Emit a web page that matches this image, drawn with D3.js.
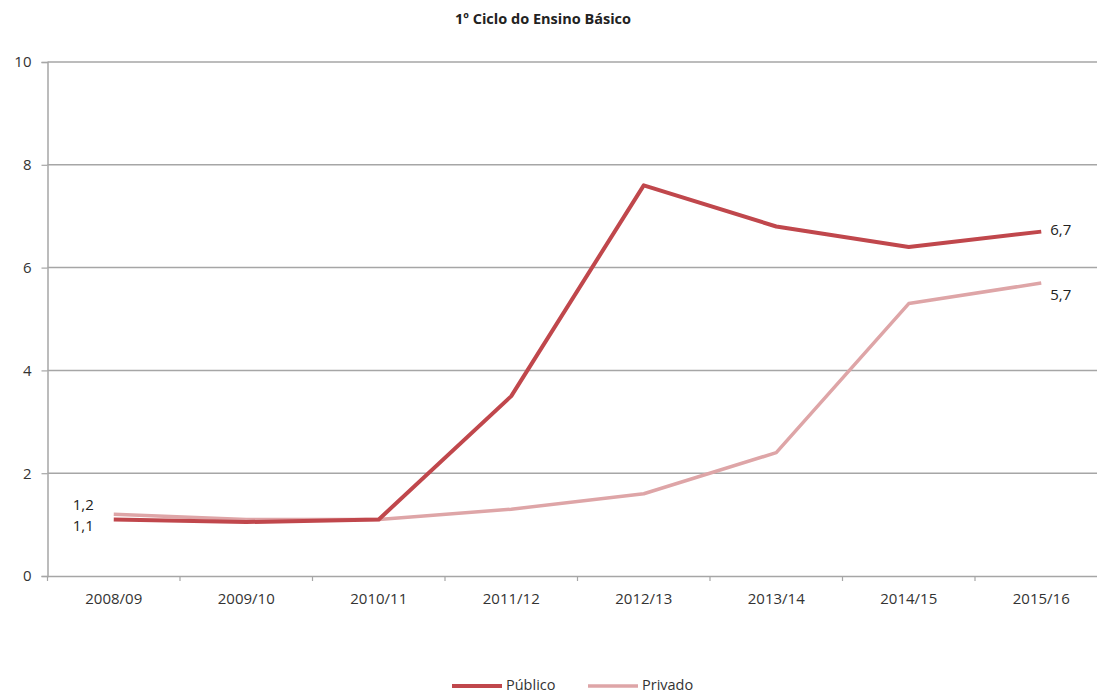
<!DOCTYPE html>
<html><head><meta charset="utf-8">
<script src="https://cdn.jsdelivr.net/npm/d3@7"></script>
<style>body{margin:0;background:#fff;} svg{display:block;font-family:"Open Sans",sans-serif;}</style>
</head><body>
<svg id="c" width="1097" height="695"></svg>
<script>
const categories = ["2008/09","2009/10","2010/11","2011/12","2012/13","2013/14","2014/15","2015/16"];
const publico = [1.1,1.05,1.1,3.5,7.6,6.8,6.4,6.7];
const privado = [1.2,1.1,1.1,1.3,1.6,2.4,5.3,5.7];
const yTicks = [0,2,4,6,8,10];
const seriesNames = ["Público","Privado"];

const FONT = "'Open Sans',sans-serif";
const svg = d3.select("#c");
const mLeft = 47.5, bandW = 132.5, mTop = 62, mBottom = 576;
const x = d3.scaleBand().domain(categories).range([mLeft, mLeft + bandW*categories.length]);
const y = d3.scaleLinear().domain([0,10]).range([mBottom, mTop]);

svg.append("text").attr("x",543).attr("y",24).attr("text-anchor","middle")
  .attr("font-size",14.5).attr("font-weight","bold").attr("fill","#222").attr("font-family",FONT)
  .text("1º Ciclo do Ensino Básico");

// gridlines
svg.append("g").selectAll("line").data(yTicks.filter(d=>d>0)).join("line")
  .attr("x1",mLeft).attr("x2",1097).attr("y1",d=>y(d)).attr("y2",d=>y(d))
  .attr("stroke","#a6a6a6").attr("stroke-width",1.5);

// y axis
const ya = svg.append("g").attr("transform",`translate(${mLeft},0)`)
  .call(d3.axisLeft(y).tickValues(yTicks).tickSize(6).tickPadding(10).tickFormat(d3.format("d")));
ya.select(".domain").attr("stroke","#a6a6a6").attr("stroke-width",1.5);
ya.selectAll(".tick line").attr("stroke","#a6a6a6").attr("stroke-width",1.2);
ya.selectAll("text").attr("font-size",15).attr("fill","#333").attr("font-family",FONT);

// x axis
const xa = svg.append("g").attr("transform",`translate(0,${mBottom})`)
  .call(d3.axisBottom(x).tickSize(0).tickPadding(17));
xa.select(".domain").attr("stroke","#a6a6a6").attr("stroke-width",1.5);
xa.selectAll("text").attr("font-size",15).attr("fill","#333").attr("font-family",FONT);
svg.append("g").selectAll("line").data(d3.range(categories.length+1)).join("line")
  .attr("x1",i=>mLeft+i*bandW).attr("x2",i=>mLeft+i*bandW).attr("y1",mBottom).attr("y2",mBottom+5)
  .attr("stroke","#a6a6a6").attr("stroke-width",1.2);

const cx = c => x(c) + x.bandwidth()/2;
const line = d3.line().x((d,i)=>cx(categories[i])).y(d=>y(d));

svg.append("path").datum(privado).attr("d",line).attr("fill","none")
  .attr("stroke","#dea5a7").attr("stroke-width",3.5).attr("stroke-linejoin","round");
svg.append("path").datum(publico).attr("d",line).attr("fill","none")
  .attr("stroke","#c0474c").attr("stroke-width",4).attr("stroke-linejoin","round");

// data labels
const lab = svg.append("g").attr("font-size",15).attr("fill","#222").attr("font-family",FONT);
const f = d3.format(".1f");
const fmt = v => f(v).replace(".",",");
const x0 = cx(categories[0]), xn = cx(categories[categories.length-1]);
lab.append("text").attr("x",x0-20).attr("y",y(privado[0])-4).attr("text-anchor","end").text(fmt(privado[0]));
lab.append("text").attr("x",x0-20).attr("y",y(publico[0])+12).attr("text-anchor","end").text(fmt(publico[0]));
lab.append("text").attr("x",xn+9).attr("y",y(publico[7])+3).text(fmt(publico[7]));
lab.append("text").attr("x",xn+9).attr("y",y(privado[7])+17).text(fmt(privado[7]));

// legend
const leg = svg.append("g");
const legItems = [{n:seriesNames[0],c:"#c0474c",w:4,x:452},{n:seriesNames[1],c:"#dea5a7",w:3.5,x:588}];
legItems.forEach(it=>{
  leg.append("line").attr("x1",it.x).attr("x2",it.x+50).attr("y1",686).attr("y2",686)
    .attr("stroke",it.c).attr("stroke-width",it.w);
  leg.append("text").attr("x",it.x+54).attr("y",690).attr("font-size",14.5).attr("fill","#333")
    .attr("font-family",FONT).text(it.n);
});
</script>
</body></html>
